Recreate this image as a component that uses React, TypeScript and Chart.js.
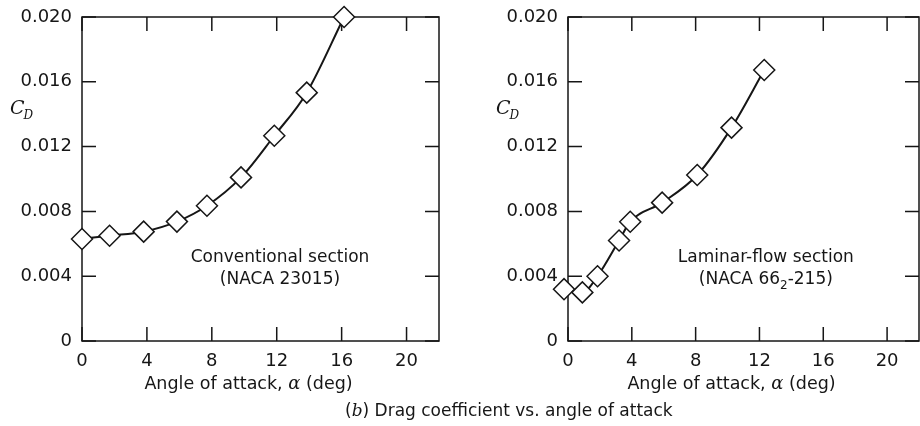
import React, { useEffect, useRef } from 'react';
import { Chart, registerables } from 'chart.js';

Chart.register(...registerables);

// ---- data ----
const xTickValues = [0, 4, 8, 12, 16, 20];
const xTickLabels = ['0', '4', '8', '12', '16', '20'];
const yTickValues = [0, 0.004, 0.008, 0.012, 0.016, 0.02];
const yTickLabels = ['0', '0.004', '0.008', '0.012', '0.016', '0.020'];

const conventionalAlpha = [0, 1.7, 3.8, 5.85, 7.7, 9.8, 11.85, 13.85, 16.15];
const conventionalCd = [0.0063, 0.0065, 0.00675, 0.00737, 0.00835, 0.0101, 0.01267, 0.01533, 0.02];

const laminarAlpha = [-0.25, 0.9, 1.85, 3.2, 3.9, 5.9, 8.1, 10.25, 12.3];
const laminarCd = [0.0032, 0.003, 0.004, 0.0062, 0.00736, 0.00854, 0.01025, 0.01317, 0.01673];

const xAxisTitle = ['Angle of attack, ', 'α', ' (deg)'];
const yAxisTitle = ['C', 'D'];
const conventionalNote = [[{ t: 'Conventional section' }], [{ t: '(NACA 23015)' }]];
const laminarNote = [[{ t: 'Laminar-flow section' }], [{ t: '(NACA 66' }, { t: '2', sub: true }, { t: '-215)' }]];
const captionParts = ['(', 'b', ') Drag coefficient vs. angle of attack'];

const SANS = '"DejaVu Sans", sans-serif';
const SERIF = '"DejaVu Serif", serif';
const INK = '#161616';

type Run = { t: string; font?: string; sub?: boolean };

function drawRuns(ctx: CanvasRenderingContext2D, runs: Run[], cx: number, baseline: number, baseFont: string, subFont: string) {
  let total = 0;
  const widths = runs.map((r) => {
    ctx.font = r.font || (r.sub ? subFont : baseFont);
    const w = ctx.measureText(r.t).width;
    total += w;
    return w;
  });
  let x = cx - total / 2;
  ctx.textAlign = 'left';
  ctx.textBaseline = 'alphabetic';
  runs.forEach((r, i) => {
    ctx.font = r.font || (r.sub ? subFont : baseFont);
    ctx.fillText(r.t, x, baseline + (r.sub ? 5 : 0));
    x += widths[i];
  });
}

const framePlugin = {
  id: 'frame',
  beforeDatasetsDraw(chart: any, _args: any, opts: any) {
    const { ctx, chartArea: a } = chart;
    const x = chart.scales.x;
    const y = chart.scales.y;
    ctx.save();
    ctx.strokeStyle = INK;
    ctx.lineWidth = 1.5;
    ctx.strokeRect(a.left, a.top, a.right - a.left, a.bottom - a.top);
    const tl = 14;
    ctx.beginPath();
    xTickValues.forEach((v) => {
      const px = x.getPixelForValue(v);
      ctx.moveTo(px, a.bottom);
      ctx.lineTo(px, a.bottom - tl);
      ctx.moveTo(px, a.top);
      ctx.lineTo(px, a.top + tl);
    });
    yTickValues.forEach((v) => {
      const py = y.getPixelForValue(v);
      ctx.moveTo(a.left, py);
      ctx.lineTo(a.left + tl, py);
      ctx.moveTo(a.right, py);
      ctx.lineTo(a.right - tl, py);
    });
    ctx.stroke();

    // annotation note
    ctx.fillStyle = INK;
    const nx = x.getPixelForValue(opts.noteX);
    const ny = y.getPixelForValue(opts.noteY);
    (opts.note as Run[][]).forEach((line, i) => {
      drawRuns(ctx, line, nx, ny + i * 22, `17px ${SANS}`, `12px ${SANS}`);
    });

    // x axis title
    const tcx = (a.left + a.right) / 2 - 12;
    drawRuns(
      ctx,
      [
        { t: xAxisTitle[0] },
        { t: xAxisTitle[1], font: `italic 18px ${SERIF}` },
        { t: xAxisTitle[2] },
      ],
      tcx,
      a.bottom + 48,
      `17.5px ${SANS}`,
      `12px ${SANS}`
    );

    // y axis title C_D
    ctx.textAlign = 'left';
    ctx.font = `italic 19px ${SERIF}`;
    const cx0 = a.left - 72;
    const cy0 = a.top + 97;
    ctx.fillText(yAxisTitle[0], cx0, cy0);
    const cw = ctx.measureText(yAxisTitle[0]).width;
    ctx.font = `italic 12px ${SERIF}`;
    ctx.fillText(yAxisTitle[1], cx0 + cw - 1, cy0 + 5);
    ctx.restore();
  },
};

function makeChart(canvas: HTMLCanvasElement, cfg: any) {
  return new Chart(canvas, {
    type: 'line',
    data: {
      datasets: [
        {
          data: cfg.alpha.map((a: number, i: number) => ({ x: a, y: cfg.cd[i] })),
          borderColor: INK,
          borderWidth: 2,
          cubicInterpolationMode: 'monotone',
          pointStyle: 'rectRot',
          pointRadius: 10.5,
          pointBackgroundColor: '#ffffff',
          pointBorderColor: INK,
          pointBorderWidth: 1.5,
          fill: false,
          clip: false,
        } as any,
      ],
    },
    options: {
      animation: false,
      responsive: false,
      events: [],
      layout: { autoPadding: false, padding: { left: 0, right: cfg.padRight, top: 17, bottom: 0 } },
      plugins: {
        legend: { display: false },
        tooltip: { enabled: false },
        frame: { note: cfg.note, noteX: cfg.noteX, noteY: cfg.noteY },
      } as any,
      scales: {
        x: {
          type: 'linear',
          min: 0,
          max: 22,
          grid: { display: false, drawTicks: false },
          border: { display: false },
          afterBuildTicks: (s: any) => {
            s.ticks = xTickValues.map((v) => ({ value: v }));
          },
          afterFit: (s: any) => {
            s.height = 85;
            s.paddingLeft = 0;
            s.paddingRight = 0;
          },
          ticks: {
            padding: 10,
            color: INK,
            font: { family: SANS, size: 18 },
            maxRotation: 0,
            autoSkip: false,
            callback: (_v: any, i: number) => xTickLabels[i],
          },
        },
        y: {
          type: 'linear',
          min: 0,
          max: 0.02,
          grid: { display: false, drawTicks: false },
          border: { display: false },
          afterBuildTicks: (s: any) => {
            s.ticks = yTickValues.map((v) => ({ value: v }));
          },
          afterFit: (s: any) => {
            s.width = cfg.yWidth;
            s.paddingTop = 0;
            s.paddingBottom = 0;
          },
          ticks: {
            padding: 10,
            color: INK,
            font: { family: SANS, size: 18 },
            autoSkip: false,
            callback: (_v: any, i: number) => yTickLabels[i],
          },
        },
      },
    },
    plugins: [framePlugin as any],
  });
}

export default function App() {
  const leftRef = useRef<HTMLCanvasElement>(null);
  const rightRef = useRef<HTMLCanvasElement>(null);

  useEffect(() => {
    document.body.style.margin = '0';
    const c1 = makeChart(leftRef.current!, {
      alpha: conventionalAlpha,
      cd: conventionalCd,
      note: conventionalNote,
      noteX: 12.2,
      noteY: 0.00488,
      yWidth: 82,
      padRight: 21,
    });
    const c2 = makeChart(rightRef.current!, {
      alpha: laminarAlpha,
      cd: laminarCd,
      note: laminarNote,
      noteX: 12.4,
      noteY: 0.00488,
      yWidth: 108,
      padRight: 1,
    });
    return () => {
      c1.destroy();
      c2.destroy();
    };
  }, []);

  return (
    <div style={{ position: 'relative', width: 920, height: 426, background: '#fff', overflow: 'hidden' }}>
      <canvas ref={leftRef} width={460} height={426} style={{ position: 'absolute', left: 0, top: 0 }} />
      <canvas ref={rightRef} width={460} height={426} style={{ position: 'absolute', left: 460, top: 0 }} />
      <div
        style={{
          position: 'absolute',
          left: 345,
          top: 399,
          font: `17px ${SANS}`,
          color: INK,
          whiteSpace: 'nowrap',
          lineHeight: '22px',
        }}
      >
        {captionParts[0]}
        <span style={{ fontFamily: SERIF, fontStyle: 'italic' }}>{captionParts[1]}</span>
        {captionParts[2]}
      </div>
    </div>
  );
}
